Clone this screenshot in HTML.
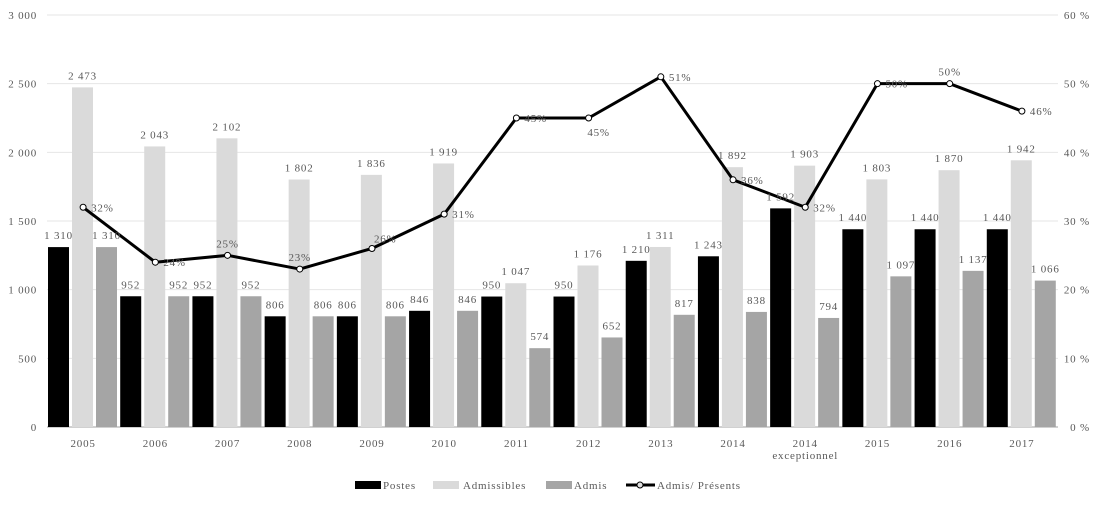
<!DOCTYPE html>
<html><head><meta charset="utf-8">
<style>
body{margin:0;background:#fff;}
svg text{font-family:"Liberation Serif",serif;font-size:11px;fill:#595959;letter-spacing:0.8px;}
</style></head>
<body>
<svg id="chart" width="1095" height="505" xmlns="http://www.w3.org/2000/svg">
<g id="grid"></g><g id="bars"></g><g id="line"></g><g id="labels"></g><g id="axes"></g>
<g id="legend">
<rect x="355" y="481" width="26" height="8" fill="#000"/>
<text x="383" y="489">Postes</text>
<rect x="433" y="481" width="26" height="8" fill="#dadada"/>
<text x="463" y="489">Admissibles</text>
<rect x="546" y="481" width="26" height="8" fill="#a5a5a5"/>
<text x="574" y="489">Admis</text>
<line x1="626" y1="485" x2="655" y2="485" stroke="#000" stroke-width="3"/>
<circle cx="640" cy="485" r="3" fill="#e0e0e0" stroke="#000"/>
<text x="657" y="489">Admis/ Présents</text>
</g>
</svg>
<script>
const categories=["2005","2006","2007","2008","2009","2010","2011","2012","2013","2014","2014|exceptionnel","2015","2016","2017"];
const postes=[1310,952,952,806,806,846,950,950,1210,1243,1592,1440,1440,1440];
const admissibles=[2473,2043,2102,1802,1836,1919,1047,1176,1311,1892,1903,1803,1870,1942];
const admis=[1310,952,952,806,806,846,574,652,817,838,794,1097,1137,1066];
const ratio=[32,24,25,23,26,31,45,45,51,36,32,50,50,46];
const leftTicks=[0,500,1000,1500,2000,2500,3000];
const rightTicks=[0,10,20,30,40,50,60];
const ratioLabelPos=["r","r","t","t","tr","r","r","b","r","r","r","r","t","r"];

const NS="http://www.w3.org/2000/svg";
const X0=47,X1=1058,Y0=427,Y1=15;
const gw=(X1-X0)/categories.length;
const yL=v=>Y0-(v/3000)*(Y0-Y1);
const yR=v=>Y0-(v/60)*(Y0-Y1);
const gx=i=>X0+i*gw;
function mk(tag,attrs,parent){const e=document.createElementNS(NS,tag);for(const k in attrs)e.setAttribute(k,attrs[k]);document.getElementById(parent).appendChild(e);return e;}
function fmt(v){const s=String(v);return s.length>3?s.slice(0,s.length-3)+" "+s.slice(-3):s;}

leftTicks.forEach((t,i)=>{
  const l=mk("line",{x1:X0,x2:X1,y1:yL(t),y2:yL(t),stroke:t===0?"#d0d0d0":"#e6e6e6","stroke-width":t===0?2:1},"grid");
  
  
  const tx=mk("text",{x:37,y:yL(t)+4,"text-anchor":"end"},"axes");tx.textContent=fmt(t);
  
  
});
rightTicks.forEach(t=>{
  const tx=mk("text",{x:1090,y:yR(t)+4,"text-anchor":"end"},"axes");tx.textContent=t+" %";
  
  
});
const series=[[postes,"#000",1,"postes"],[admissibles,"#dadada",25,"admissibles"],[admis,"#a5a5a5",49,"admis"]];
categories.forEach((c,i)=>{
  series.forEach(([arr,col,off,nm])=>{
    const x=gx(i)+off,w=21,y=yL(arr[i]);
    const r=mk("rect",{x:x,y:y,width:w,height:Y0-y,fill:col},"bars");
    
    
    const t=mk("text",{x:x+w/2,y:y-8,"text-anchor":"middle"},"labels");t.textContent=fmt(arr[i]);
    
    
  });
  const parts=c.split("|");
  parts.forEach((p,j)=>{
    const t=mk("text",{x:gx(i)+gw/2,y:447+j*12,"text-anchor":"middle"},"axes");t.textContent=p;
    
    
  });
});
const pts=ratio.map((v,i)=>[gx(i)+gw/2,yR(v)]);
const pl=mk("polyline",{points:pts.map(p=>p.join(",")).join(" "),fill:"none",stroke:"#000","stroke-width":3,"stroke-linejoin":"round"},"line");


pts.forEach((p,i)=>{
  const c=mk("circle",{cx:p[0],cy:p[1],r:3,fill:"#fff",stroke:"#000","stroke-width":1},"line");
  
  
  let x=p[0]+8,y=p[1]+4,a="start";
  const pos=ratioLabelPos[i];
  if(pos==="t"){x=p[0];y=p[1]-8;a="middle";}
  if(pos==="b"){x=p[0]+10;y=p[1]+18;a="middle";}
  if(pos==="tr"){x=p[0]+2;y=p[1]-6;}
  const t=mk("text",{x:x,y:y,"text-anchor":a},"labels");t.textContent=ratio[i]+"%";
  
  
});
</script>
</body></html>
